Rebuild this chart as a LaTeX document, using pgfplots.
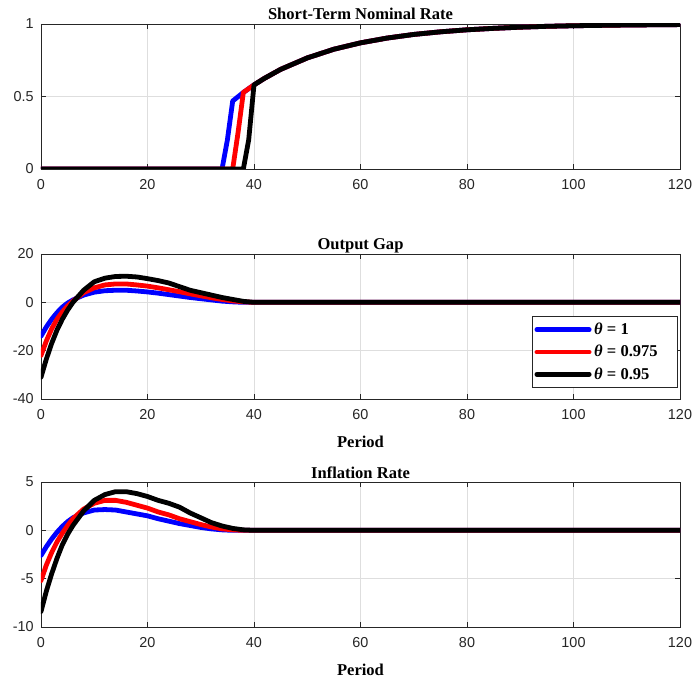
\documentclass[border=0pt]{standalone}
\usepackage{fontspec}
\setmainfont{Liberation Serif}
\newfontfamily\arialf{Liberation Sans}
\usepackage{pgfplots}
\pgfplotsset{compat=1.18}
\definecolor{axgray}{rgb}{0.15,0.15,0.15}
\definecolor{gridgray}{rgb}{0.87,0.87,0.87}
\pgfplotsset{
  mystyle/.style={
    scale only axis,
    width=479.25pt, height=108.75pt,
    xmin=0, xmax=120,
    xtick={0,20,...,120},
    grid=major,
    major grid style={gridgray, line width=0.6pt},
    axis line style={axgray, line width=0.6pt},
    tick style={axgray, line width=0.6pt},
    tick align=inside,
    major tick length=4pt,
    /pgf/number format/assume math mode=true,
    tick label style={font=\fontsize{10.8}{12}\selectfont\arialf, color=axgray},
    xticklabel style={yshift=-4.5pt},
    yticklabel style={xshift=-2pt},
    title style={font=\bfseries\fontsize{12.4}{14}\selectfont, inner sep=0pt, anchor=base, at={(axis description cs:0.5,1)}, yshift=-3pt},
    xlabel style={font=\bfseries\fontsize{12.4}{14}\selectfont, inner sep=0pt, anchor=base, at={(axis description cs:0.5,0)}, yshift=-36.5pt},
    every axis plot/.append style={line width=3.6pt, line join=round, line cap=round},
    legend cell align=left,
  }
}
\begin{document}
\begin{tikzpicture}
\useasboundingbox (-30.75pt,18pt) rectangle (489pt,-492.75pt);
% Top panel
\begin{axis}[mystyle, at={(0,0)}, anchor=north west,
  ymin=0, ymax=1, ytick={0,0.5,1},
  title={Short-Term Nominal Rate}]
\addplot[blue] coordinates {(0,0)(34,0)(35,0.2)(36,0.469)(38,0.528)(40,0.58)(42,0.626)(45,0.687)(50,0.766)(55,0.826)(60,0.870)(65,0.903)(70,0.928)(75,0.946)(80,0.960)(85,0.970)(90,0.978)(95,0.984)(100,0.988)(110,0.993)(120,0.996)};
\addplot[red] coordinates {(0,0)(36,0)(37,0.25)(38,0.528)(40,0.58)(42,0.626)(45,0.687)(50,0.766)(55,0.826)(60,0.870)(65,0.903)(70,0.928)(75,0.946)(80,0.960)(85,0.970)(90,0.978)(95,0.984)(100,0.988)(110,0.993)(120,0.996)};
\addplot[black] coordinates {(0,0)(38,0)(39,0.2)(40,0.58)(42,0.626)(45,0.687)(50,0.766)(55,0.826)(60,0.870)(65,0.903)(70,0.928)(75,0.946)(80,0.960)(85,0.970)(90,0.978)(95,0.984)(100,0.988)(110,0.993)(120,0.996)};
\end{axis}
% Middle panel
\begin{axis}[mystyle, at={(0,-172.5pt)}, anchor=north west,
  ymin=-40, ymax=20, ytick={-40,-20,0,20},
  title={Output Gap}, xlabel={Period},
  legend style={at={(axis description cs:0.996,0.075)}, anchor=south east,
    draw=axgray, line width=0.6pt, fill=white,
    font=\bfseries\fontsize{12.4}{14}\selectfont,
    inner xsep=1.5pt, inner ysep=3pt, row sep=2.5pt},
  legend image code/.code={\draw[#1, line cap=round] (1.8pt,0pt) -- (41pt,0pt);}]
\addplot[blue] coordinates {(0,-14)(1,-10.2)(2,-7)(3,-4.3)(4,-2)(5,-0.3)(6,1)(8,3)(10,4.2)(12,4.8)(14,5)(16,5)(18,4.7)(20,4.3)(22,3.8)(24,3.2)(26,2.6)(28,2)(30,1.5)(32,1)(34,0.5)(36,0.2)(38,0)(40,0)(120,0)};
\addplot[red] coordinates {(0,-22)(1,-16)(2,-11)(3,-7)(4,-4)(5,-1.5)(6,0.5)(8,4)(10,6)(12,7.2)(14,7.6)(16,7.6)(18,7.2)(20,6.7)(22,6)(24,5.2)(26,4.4)(28,3.5)(30,2.7)(32,1.9)(34,1.2)(36,0.6)(38,0.2)(40,0)(120,0)};
\addplot[black] coordinates {(0,-31)(1,-23.5)(2,-17)(3,-11.5)(4,-7)(5,-3.2)(6,0)(8,5)(10,8.5)(12,10)(14,10.7)(16,10.8)(18,10.5)(20,9.8)(22,9)(24,8)(26,6.5)(28,5)(30,4)(32,3)(34,2)(36,1.2)(38,0.4)(40,0)(120,0)};
\legend{\textit{θ} = 1, \textit{θ} = 0.975\hspace*{11pt}, \textit{θ} = 0.95}
\end{axis}
% Bottom panel
\begin{axis}[mystyle, at={(0,-343.5pt)}, anchor=north west,
  ymin=-10, ymax=5, ytick={-10,-5,0,5},
  title={Inflation Rate}, xlabel={Period}]
\addplot[blue] coordinates {(0,-2.6)(1,-1.7)(2,-0.9)(3,-0.2)(4,0.4)(5,0.9)(6,1.3)(8,1.8)(10,2.1)(12,2.15)(14,2.1)(16,1.9)(18,1.7)(20,1.5)(22,1.2)(24,0.95)(26,0.7)(28,0.5)(30,0.3)(32,0.15)(34,0.05)(36,0)(40,0)(120,0)};
\addplot[red] coordinates {(0,-5.2)(1,-3.6)(2,-2.3)(3,-1.2)(4,-0.3)(5,0.5)(6,1.2)(8,2.2)(10,2.8)(12,3.1)(14,3.1)(16,2.9)(18,2.6)(20,2.3)(22,1.9)(24,1.6)(26,1.2)(28,0.9)(30,0.6)(32,0.35)(34,0.15)(36,0.05)(38,0)(40,0)(120,0)};
\addplot[black] coordinates {(0,-8.4)(1,-6.3)(2,-4.5)(3,-2.9)(4,-1.5)(5,-0.4)(6,0.5)(8,2)(10,3.1)(12,3.7)(14,4.0)(16,4.0)(18,3.8)(20,3.5)(22,3.1)(24,2.8)(26,2.4)(28,1.8)(30,1.3)(32,0.8)(34,0.45)(36,0.2)(38,0.05)(40,0)(120,0)};
\end{axis}
\end{tikzpicture}
\end{document}
